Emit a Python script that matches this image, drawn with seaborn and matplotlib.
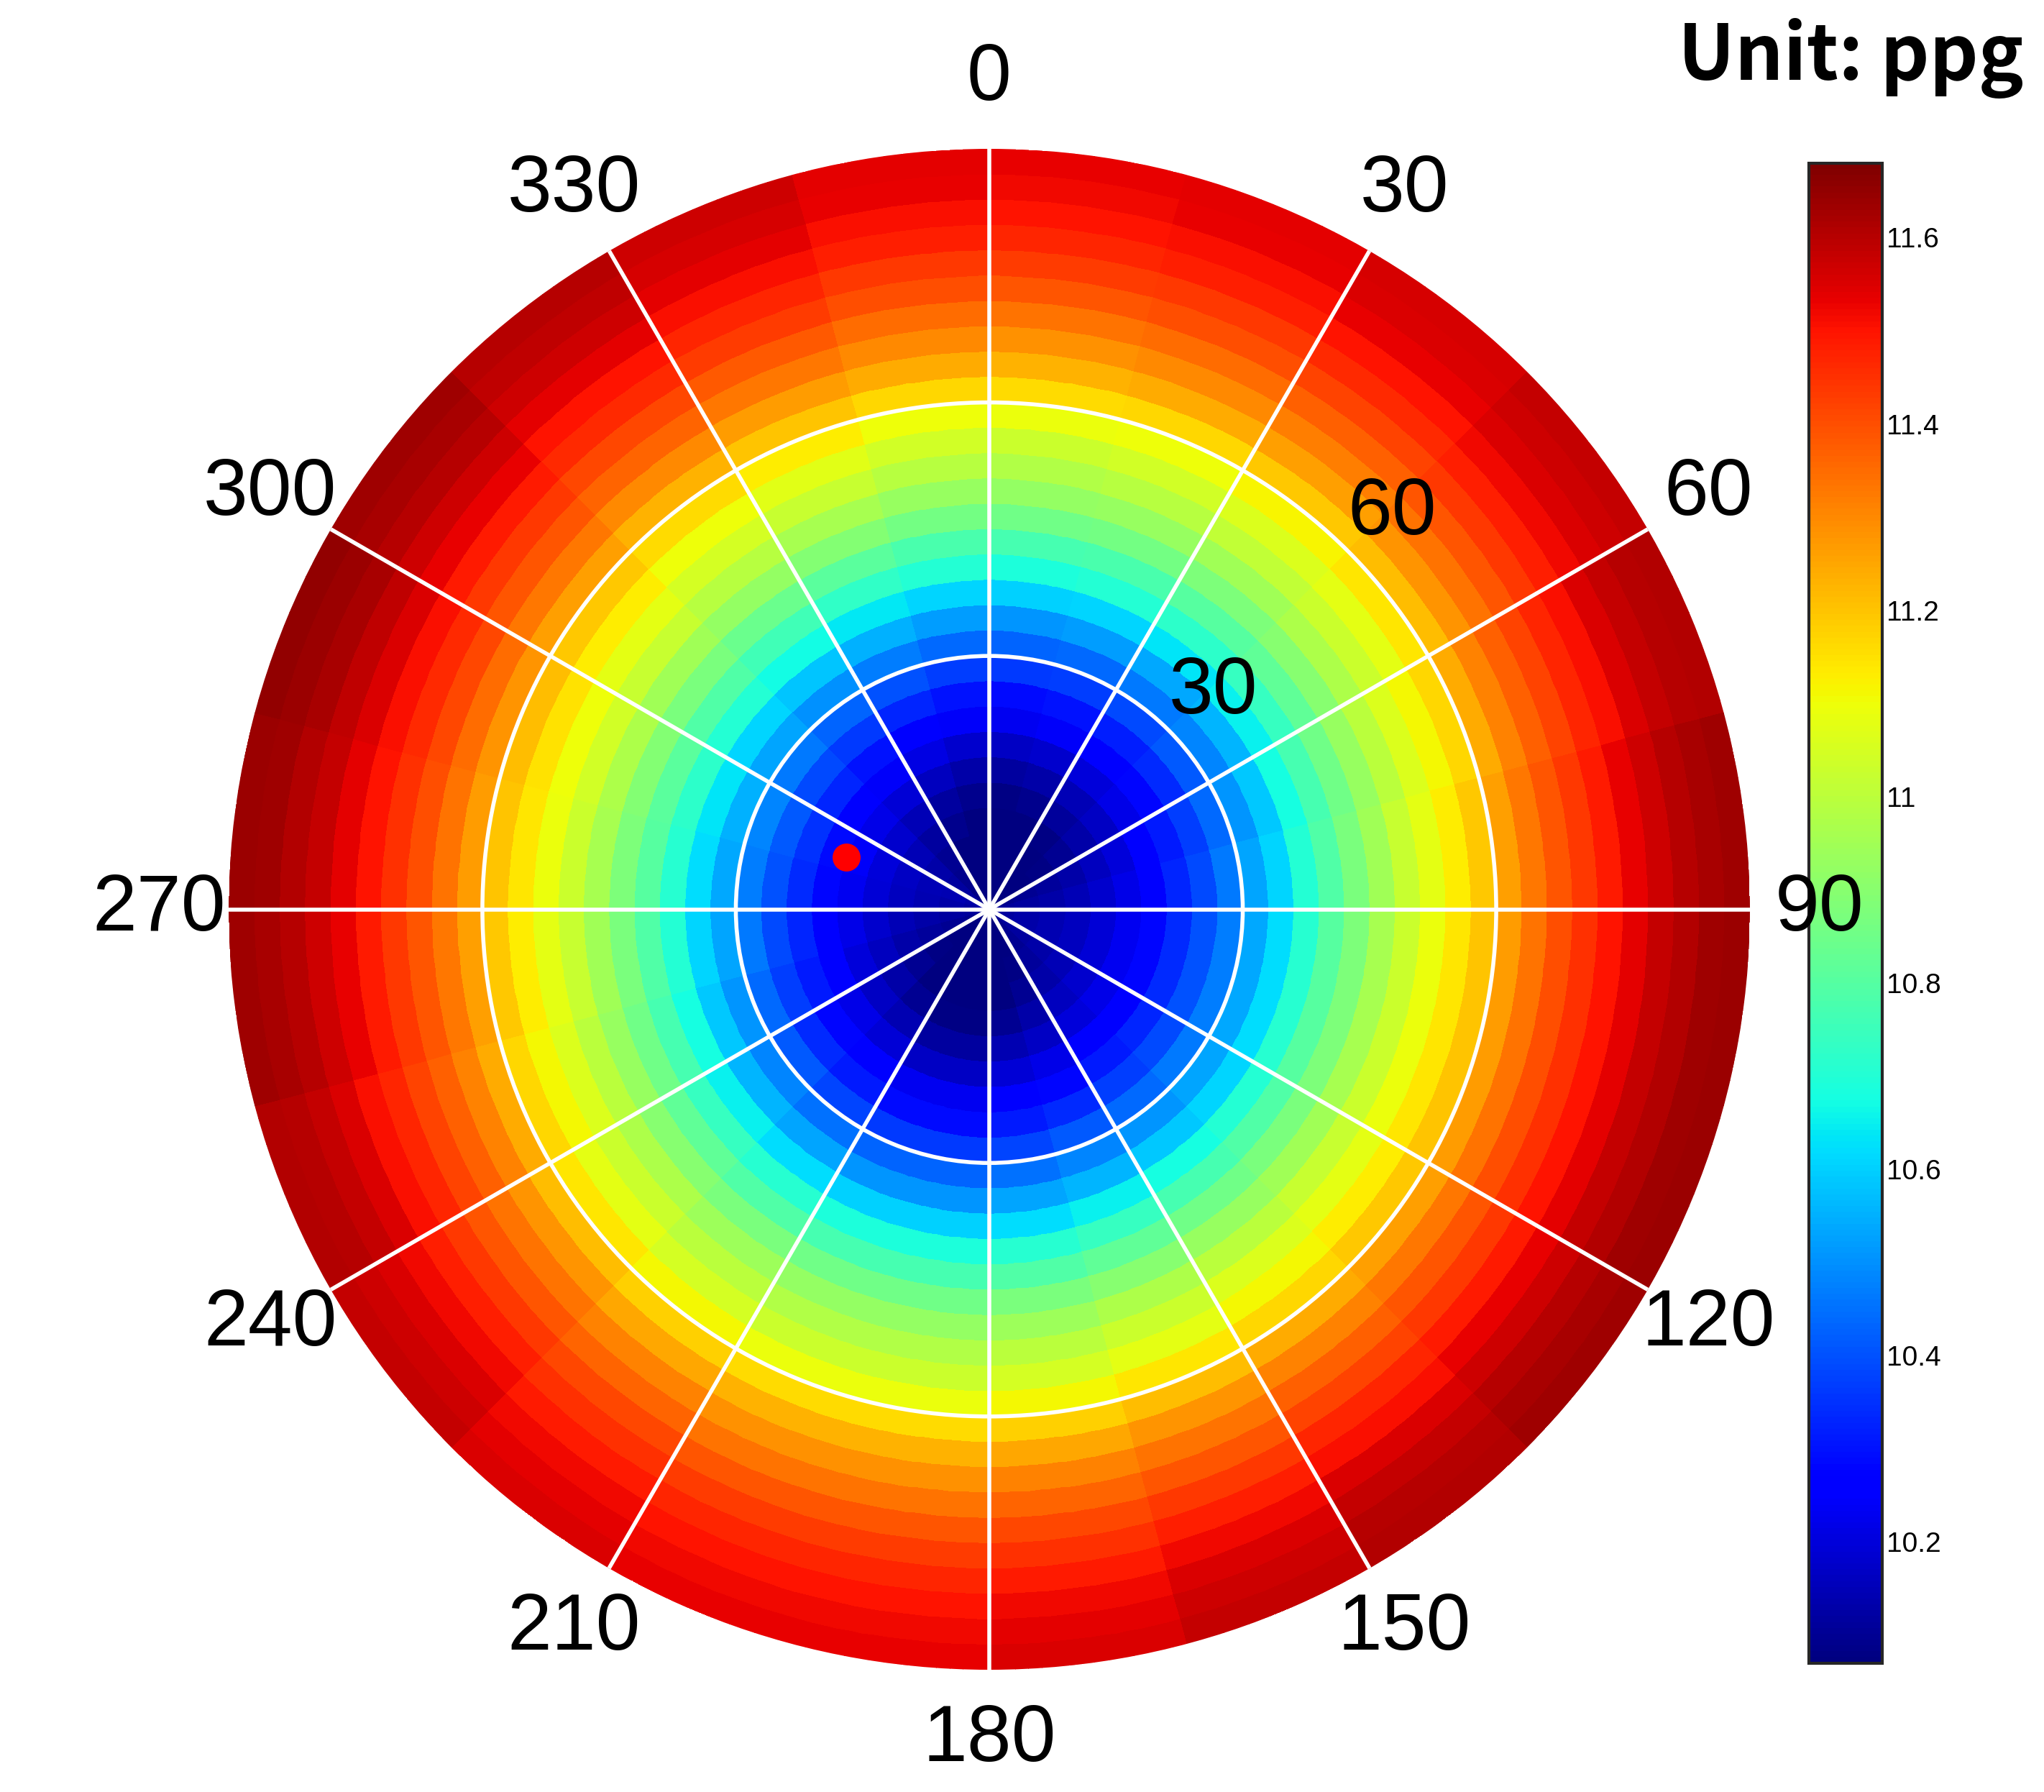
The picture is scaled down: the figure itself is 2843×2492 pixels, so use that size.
import numpy as np
import seaborn as sns
import matplotlib.pyplot as plt

# Radial rings (inclination, deg) and ring-centre values (ppg)
ring_edges = np.arange(0, 93, 3)
ring_values = [10.06, 10.07, 10.08, 10.10, 10.13, 10.17, 10.22, 10.28, 10.34, 10.41,
               10.48, 10.56, 10.65, 10.74, 10.82, 10.90, 10.97, 11.03, 11.08, 11.14,
               11.21, 11.28, 11.34, 11.39, 11.44, 11.48, 11.52, 11.55, 11.57, 11.58]
# Azimuth sectors (deg) and offset of each sector from the ring value
sector_width = 15
sector_offsets = [-0.05, -0.04, -0.02, 0.00, 0.03, 0.05, 0.06, 0.06, 0.05, 0.03, 0.00, -0.03,
                  -0.05, -0.05, -0.03, 0.00, 0.03, 0.05, 0.06, 0.07, 0.05, 0.02, -0.01, -0.04]
dot_azimuth, dot_radius = 290, 18
theta_ticks = list(range(0, 360, 30))
cbar_ticks = [10.2, 10.4, 10.6, 10.8, 11, 11.2, 11.4, 11.6]

sns.set_theme(style="white")
plt.rcParams['font.family'] = ['Liberation Sans', 'DejaVu Sans']
plt.rcParams['text.color'] = 'black'

# split each sector into 1-degree slices so the disc edge is round
fine_offsets = np.repeat(sector_offsets, sector_width)
fine_edges = np.arange(0, 360 + 1, 1)
grid = np.add.outer(np.array(ring_values), fine_offsets)

fig = plt.figure(figsize=(14.215, 12.46), dpi=200, facecolor='white')
ax = fig.add_axes([0.112, 0.068, 0.744, 0.849], projection='polar')
ax.set_theta_zero_location('N')
ax.set_theta_direction(-1)
mesh = ax.pcolormesh(np.deg2rad(fine_edges), ring_edges, grid,
                     cmap='jet', vmin=10.07, vmax=11.68, shading='flat',
                     antialiased=False, linewidth=0, zorder=0.5)
ax.plot(np.deg2rad(dot_azimuth), dot_radius, 'o', color='red', markersize=13, zorder=5)

ax.set_ylim(0, 90)
ax.set_axisbelow(False)
ax.set_thetagrids(theta_ticks, [str(t) for t in theta_ticks], fontsize=40, color='black')
ax.tick_params(axis='x', pad=22)
ax.set_rgrids([30, 60], ['30', '60'], fontsize=40, angle=45, color='black')
ax.grid(True, color='white', linewidth=2)
ax.spines['polar'].set_visible(False)

cax = fig.add_axes([0.885, 0.072, 0.036, 0.837])
cb = fig.colorbar(mesh, cax=cax, ticks=cbar_ticks)
cb.ax.set_yticklabels([f'{t:g}' for t in cbar_ticks], fontsize=14, color='black')
cb.ax.tick_params(direction='in', length=6, pad=2)
cb.outline.set_linewidth(1.5)
# keep the "90" label on top of the colour bar
cax.set_zorder(1)
ax.set_zorder(2)

fig.text(0.99, 0.945, 'Unit: ppg', ha='right', va='bottom', fontsize=38,
         fontweight='bold', family=['Noto Sans CJK SC', 'DejaVu Sans'])

plt.savefig('out.png', dpi=200, facecolor='white')
